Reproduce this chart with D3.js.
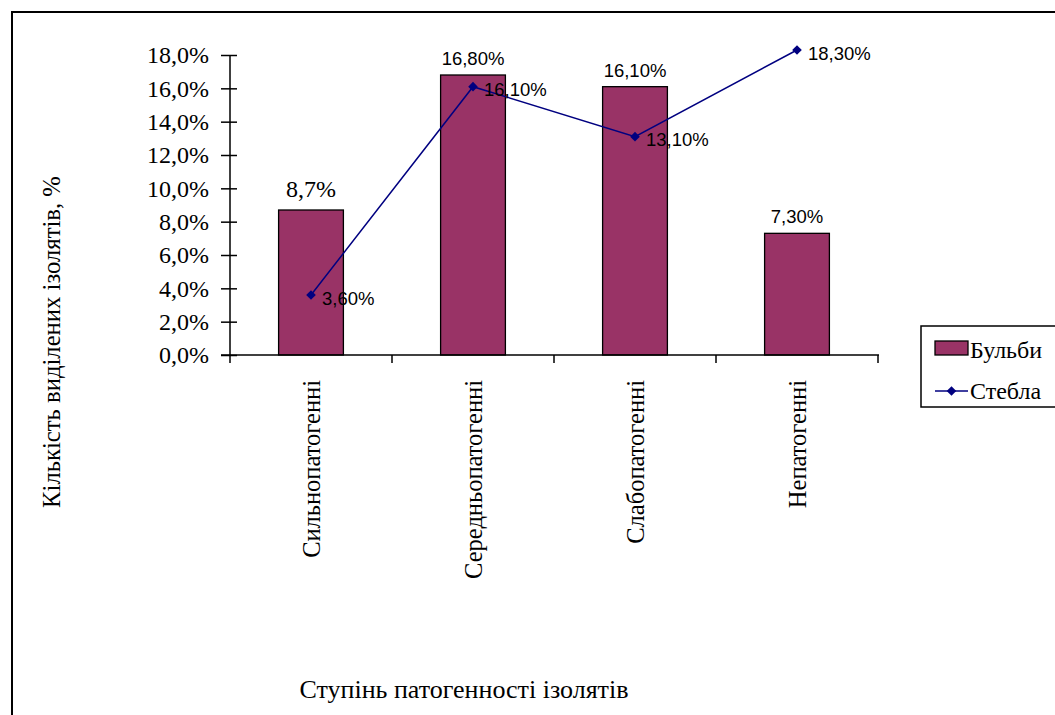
<!DOCTYPE html>
<html>
<head>
<meta charset="utf-8">
<script src="https://cdn.jsdelivr.net/npm/d3@7"></script>
<style>
  body { margin: 0; background: #fff; }
  .serif { font-family: "Liberation Serif", "Times New Roman", serif; }
  .sans { font-family: "Liberation Sans", Arial, sans-serif; }
</style>
</head>
<body>
<svg id="chart" width="1055" height="715"></svg>
<script>
// data
const categories = ["Сильнопатогенні", "Середньопатогенні", "Слабопатогенні", "Непатогенні"];
const bulbValues = [8.7, 16.8, 16.1, 7.3];          // Бульби
const bulbLabels = ["8,7%", "16,80%", "16,10%", "7,30%"];
const stemValues = [3.6, 16.1, 13.1, 18.3];         // Стебла
const stemLabels = ["3,60%", "16,10%", "13,10%", "18,30%"];
const yTicks = [0, 2, 4, 6, 8, 10, 12, 14, 16, 18];

const svg = d3.select("#chart");

// outer frame
svg.append("rect")
    .attr("x", 12).attr("y", 12)
    .attr("width", 1200).attr("height", 900)
    .attr("fill", "none")
    .attr("stroke", "#000")
    .attr("stroke-width", 2);

const x = d3.scaleBand()
    .domain(categories)
    .range([230, 878])
    .paddingInner(0.6)
    .paddingOuter(0.3);

const y = d3.scaleLinear()
    .domain([0, 18])
    .range([355, 55]);

// bars
svg.append("g").selectAll("rect")
    .data(bulbValues)
    .join("rect")
    .attr("x", (d, i) => x(categories[i]))
    .attr("y", d => y(d))
    .attr("width", x.bandwidth())
    .attr("height", d => y(0) - y(d))
    .attr("fill", "#993366")
    .attr("stroke", "#000")
    .attr("stroke-width", 1.3);

// bar labels (first one is serif in the source)
svg.append("g").selectAll("text")
    .data(bulbValues)
    .join("text")
    .attr("class", (d, i) => i === 0 ? "serif" : "sans")
    .attr("x", (d, i) => x(categories[i]) + x.bandwidth() / 2)
    .attr("y", (d, i) => y(d) - (i === 0 ? 13 : 10))
    .attr("text-anchor", "middle")
    .attr("font-size", (d, i) => i === 0 ? 24 : 18.5)
    .attr("fill", "#000")
    .text((d, i) => bulbLabels[i]);

// y axis
const yAxis = svg.append("g")
    .attr("transform", "translate(230,0)")
    .call(d3.axisLeft(y)
        .tickValues(yTicks)
        .tickSizeInner(9)
        .tickSizeOuter(0)
        .tickPadding(12)
        .tickFormat(d => d.toFixed(1).replace(".", ",") + "%"));
yAxis.select(".domain").remove();
yAxis.selectAll(".tick line").attr("x2", -9).attr("x1", 7).attr("stroke", "#000").attr("stroke-width", 1.5);
yAxis.selectAll(".tick text")
    .attr("class", "serif")
    .attr("font-size", 24)
    .attr("fill", "#000");
svg.append("line")
    .attr("x1", 230).attr("x2", 230)
    .attr("y1", y(18)).attr("y2", 363)
    .attr("stroke", "#000").attr("stroke-width", 1.5);

// x axis, ticks sit between categories
svg.append("line")
    .attr("x1", 221).attr("x2", 879)
    .attr("y1", y(0)).attr("y2", y(0))
    .attr("stroke", "#000").attr("stroke-width", 1.5);
svg.append("g").selectAll("line")
    .data(categories)
    .join("line")
    .attr("x1", (d, i) => x.range()[0] + x.step() * (i + 1))
    .attr("x2", (d, i) => x.range()[0] + x.step() * (i + 1))
    .attr("y1", y(0)).attr("y2", 363)
    .attr("stroke", "#000").attr("stroke-width", 1.5);

const xAxis = svg.append("g")
    .attr("transform", "translate(0,380)")
    .call(d3.axisBottom(x).tickSize(0).tickPadding(0));
xAxis.select(".domain").remove();
xAxis.selectAll(".tick text")
    .attr("class", "serif")
    .attr("font-size", 24.5)
    .attr("fill", "#000")
    .attr("text-anchor", "end")
    .attr("transform", "rotate(-90)")
    .attr("x", 0)
    .attr("y", 0)
    .attr("dy", "0.35em");

// stems line
const line = d3.line()
    .x((d, i) => x(categories[i]) + x.bandwidth() / 2)
    .y(d => y(d));
svg.append("path")
    .datum(stemValues)
    .attr("d", line)
    .attr("fill", "none")
    .attr("stroke", "#000080")
    .attr("stroke-width", 1.5);

svg.append("g").selectAll("rect")
    .data(stemValues)
    .join("rect")
    .attr("x", -3.4).attr("y", -3.4)
    .attr("width", 6.8).attr("height", 6.8)
    .attr("fill", "#000080")
    .attr("transform", (d, i) => `translate(${x(categories[i]) + x.bandwidth() / 2},${y(d)}) rotate(45)`);

svg.append("g").selectAll("text")
    .data(stemValues)
    .join("text")
    .attr("class", "sans")
    .attr("font-size", 18.5)
    .attr("fill", "#000")
    .attr("x", (d, i) => x(categories[i]) + x.bandwidth() / 2 + 11)
    .attr("y", d => y(d) + 9.5)
    .text((d, i) => stemLabels[i]);

// axis titles
svg.append("text")
    .attr("class", "serif")
    .attr("font-size", 24.7)
    .attr("text-anchor", "middle")
    .attr("transform", "translate(60,342) rotate(-90)")
    .text("Кількість виділених ізолятів, %");

svg.append("text")
    .attr("class", "serif")
    .attr("font-size", 26)
    .attr("text-anchor", "middle")
    .attr("x", 464)
    .attr("y", 698)
    .text("Ступінь патогенності ізолятів");

// legend
const legend = svg.append("g");
legend.append("rect")
    .attr("x", 921).attr("y", 326)
    .attr("width", 300).attr("height", 81)
    .attr("fill", "#fff")
    .attr("stroke", "#000")
    .attr("stroke-width", 1.5);
legend.append("rect")
    .attr("x", 935).attr("y", 341)
    .attr("width", 33).attr("height", 14)
    .attr("fill", "#993366")
    .attr("stroke", "#000")
    .attr("stroke-width", 1.3);
legend.append("text")
    .attr("class", "serif")
    .attr("font-size", 24)
    .attr("x", 970).attr("y", 358)
    .text("Бульби");
legend.append("line")
    .attr("x1", 935).attr("x2", 968)
    .attr("y1", 391).attr("y2", 391)
    .attr("stroke", "#000080")
    .attr("stroke-width", 1.5);
legend.append("rect")
    .attr("x", -3.4).attr("y", -3.4)
    .attr("width", 6.8).attr("height", 6.8)
    .attr("fill", "#000080")
    .attr("transform", "translate(951.5,391) rotate(45)");
legend.append("text")
    .attr("class", "serif")
    .attr("font-size", 24)
    .attr("x", 970).attr("y", 399)
    .text("Стебла");
</script>
</body>
</html>
